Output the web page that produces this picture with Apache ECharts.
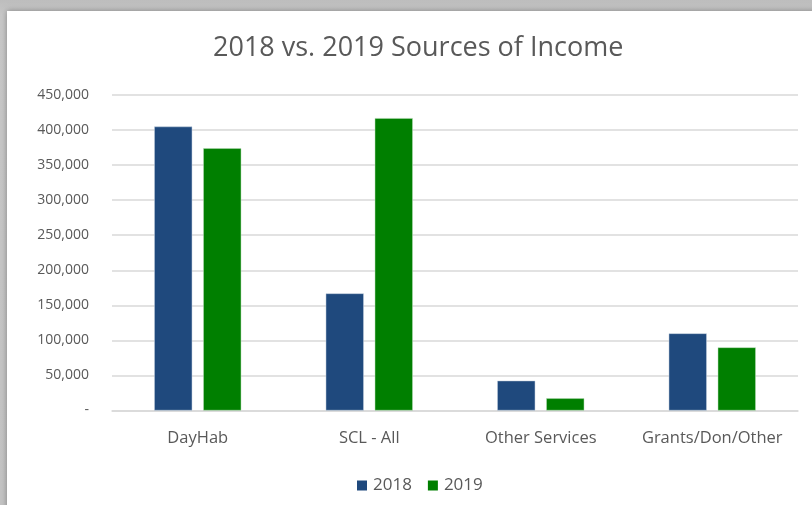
<!DOCTYPE html>
<html><head><meta charset="utf-8">
<script src="https://cdn.jsdelivr.net/npm/echarts@6/dist/echarts.min.js"></script>
<style>html,body{margin:0;padding:0;background:#fff}#c{width:812px;height:505px}</style>
</head><body><div id="c"></div>
<script>
const categories = ["DayHab", "SCL - All", "Other Services", "Grants/Don/Other"];
const series2018 = [405000, 167000, 42500, 110000];
const series2019 = [374000, 417000, 17400, 90000];
const seriesNames = ["2018", "2019"];
const yTicks = [0, 50000, 100000, 150000, 200000, 250000, 300000, 350000, 400000, 450000];

const chart = echarts.init(document.getElementById('c'), null, {renderer: 'canvas'});
const font = '"Open Sans", Lato, sans-serif';
chart.setOption({
  animation: false,
  backgroundColor: '#ffffff',
  graphic: [
    {type: 'rect', z: -10, shape: {x: 0, y: 0, width: 812, height: 505}, style: {fill: {type: 'linear', x: 0, y: 0, x2: 0, y2: 1, colorStops: [{offset: 0, color: '#bdbdbd'}, {offset: 0.03, color: '#c8c8c8'}, {offset: 1, color: '#c4c4c4'}]}}, silent: true},
    {type: 'rect', z: -9, shape: {x: 7, y: 11, width: 810, height: 500}, style: {fill: '#ffffff', shadowBlur: 6, shadowColor: 'rgba(0,0,0,0.35)', shadowOffsetX: 0, shadowOffsetY: 0}, silent: true}
  ],
  title: {
    text: '2018 vs. 2019 Sources of Income',
    left: 208, top: 30, itemGap: 0,
    textStyle: {fontFamily: font, fontSize: 27, fontWeight: 'normal', color: '#595959'}
  },
  legend: {
    data: seriesNames, bottom: 6, left: 352,
    itemWidth: 10, itemHeight: 10, itemGap: 16, icon: 'rect',
    itemStyle: {borderWidth: 0},
    textStyle: {fontFamily: font, fontSize: 17, color: '#595959', padding: [0, 0, 0, 1]}
  },
  grid: {left: 112, right: 14, top: 95, bottom: 94.5, containLabel: false},
  xAxis: {
    type: 'category', data: categories,
    axisLine: {lineStyle: {color: '#d9d9d9', width: 1.5}},
    axisTick: {show: false},
    axisLabel: {fontFamily: font, fontSize: 16.5, color: '#595959', margin: 19, interval: 0, hideOverlap: false}
  },
  yAxis: {
    type: 'value', min: 0, max: 450000, interval: 50000,
    axisLine: {show: false}, axisTick: {show: false},
    splitLine: {lineStyle: {color: '#d9d9d9', width: 1.5}},
    axisLabel: {fontFamily: font, fontSize: 14, color: '#595959', margin: 23,
      formatter: v => v === 0 ? '-' : v.toLocaleString('en-US')}
  },
  series: [
    {name: seriesNames[0], type: 'bar', data: series2018, barWidth: 38, barGap: '29%',
      itemStyle: {color: '#1f497d', borderColor: '#c5d0df', borderWidth: 0.5}},
    {name: seriesNames[1], type: 'bar', data: series2019, barWidth: 38,
      itemStyle: {color: '#007f00', borderColor: '#b8dcb8', borderWidth: 0.5}}
  ]
});
</script></body></html>
